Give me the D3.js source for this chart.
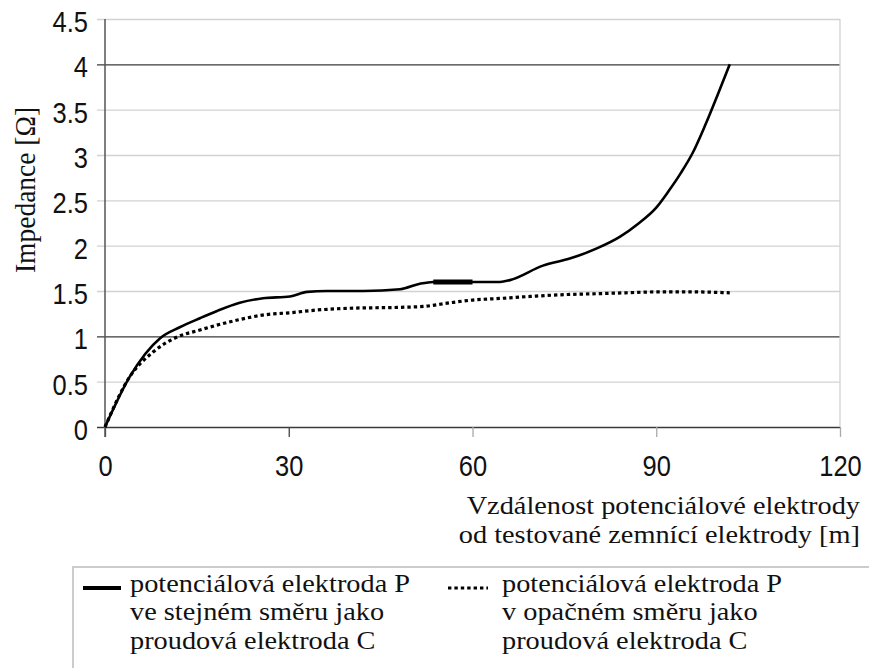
<!DOCTYPE html>
<html>
<head>
<meta charset="utf-8">
<script src="https://cdn.jsdelivr.net/npm/d3@7/dist/d3.min.js"></script>
<style>
body { margin: 0; background: #fff; }
</style>
</head>
<body>
<svg width="869" height="668"></svg>
<script>
// distance of potential electrode [m] and measured impedance [ohm]
var distSame = [0, 4, 9, 12.2, 15.5, 18.3, 22, 25.8, 30.2, 33, 36.2, 42.2, 48.2, 51.4, 53.6, 57, 60, 64.5, 66.1, 71.5, 76, 80.3, 84.1, 87, 90, 92, 94, 96, 98, 100, 102];
var impSame  = [0, 0.55, 0.98, 1.10, 1.20, 1.28, 1.37, 1.42, 1.44, 1.49, 1.50, 1.50, 1.52, 1.58, 1.60, 1.60, 1.60, 1.60, 1.62, 1.78, 1.86, 1.97, 2.10, 2.24, 2.42, 2.60, 2.80, 3.03, 3.33, 3.66, 4.0];

var distOpp = [0, 4, 7.9, 11.7, 15.5, 21, 26.4, 30.2, 34.6, 40, 48.2, 52, 56.3, 60, 65, 69.4, 75, 80.3, 85, 90, 96, 102];
var impOpp  = [0, 0.55, 0.83, 0.99, 1.07, 1.17, 1.24, 1.26, 1.29, 1.31, 1.32, 1.33, 1.37, 1.40, 1.42, 1.44, 1.46, 1.47, 1.48, 1.49, 1.49, 1.48];

var xTicks = [0, 30, 60, 90, 120];
var yTicks = [0, 0.5, 1, 1.5, 2, 2.5, 3, 3.5, 4, 4.5];
var darkGrid = [0, 1, 4];

var yTitle = "Impedance [Ω]";
var xTitle = ["Vzdálenost potenciálové elektrody", "od testované zemnící elektrody [m]"];
var legendSame = ["potenciálová elektroda P", "ve stejném směru jako", "proudová elektroda C"];
var legendOpp = ["potenciálová elektroda P", "v opačném směru jako", "proudová elektroda C"];

var svg = d3.select("svg");
var sans = "'Liberation Sans', Arial, sans-serif",
    serif = "'Liberation Serif', 'Times New Roman', serif";

var x = d3.scaleLinear().domain([0, 120]).range([105, 840]);
var y = d3.scaleLinear().domain([0, 4.5]).range([427, 19]);

// gridlines + y labels
var gy = svg.append("g")
  .attr("transform", "translate(105,0)")
  .call(d3.axisLeft(y)
    .tickValues(yTicks)
    .tickSize(-(x.range()[1] - x.range()[0]))
    .tickPadding(17)
    .tickFormat(function(d) { return String(d); }));
gy.select(".domain").remove();
gy.selectAll(".tick line")
  .attr("x1", -8)
  .attr("stroke", function(d) { return darkGrid.indexOf(d) >= 0 ? "#3a3a3a" : "#d2d2d2"; })
  .attr("stroke-width", function(d) { return darkGrid.indexOf(d) >= 0 ? 1.4 : 1.3; });
gy.selectAll(".tick text")
  .attr("font-family", sans)
  .attr("font-size", 25.5)
  .attr("fill", "#111")
  .attr("dy", null)
  .attr("y", 10.5)
  .attr("transform", "scale(1,1.18)");

// right border
svg.append("line")
  .attr("x1", x(120)).attr("x2", x(120))
  .attr("y1", y(4.5)).attr("y2", y(0))
  .attr("stroke", "#d2d2d2").attr("stroke-width", 1.3);

// x axis ticks + labels
var gx = svg.append("g")
  .attr("transform", "translate(0," + y(0) + ")")
  .call(d3.axisBottom(x).tickValues(xTicks).tickSize(10).tickSizeOuter(0));
gx.select(".domain").remove();
gx.selectAll(".tick line")
  .attr("stroke", function(d) { return d <= 30 ? "#444" : "#aaa"; })
  .attr("stroke-width", 1.3);
gx.selectAll(".tick text")
  .attr("font-family", sans)
  .attr("font-size", 25.5)
  .attr("fill", "#111")
  .attr("dy", null)
  .attr("y", 41.5)
  .attr("transform", "scale(1,1.18)");

// y axis line
svg.append("line")
  .attr("x1", x(0)).attr("x2", x(0))
  .attr("y1", y(4.5)).attr("y2", y(0) + 10)
  .attr("stroke", "#555").attr("stroke-width", 1.5);

// series
var line = d3.line()
  .x(function(d) { return x(d[0]); })
  .y(function(d) { return y(d[1]); })
  .curve(d3.curveMonotoneX);

var same = d3.zip(distSame, impSame),
    opp = d3.zip(distOpp, impOpp);

svg.append("path")
  .datum(opp)
  .attr("d", line)
  .attr("fill", "none")
  .attr("stroke", "#000")
  .attr("stroke-width", 3.2)
  .attr("stroke-dasharray", "3.4,3");

svg.append("path")
  .datum(same)
  .attr("d", line)
  .attr("fill", "none")
  .attr("stroke", "#000")
  .attr("stroke-width", 2.6);

// thicker piece on the plateau
svg.append("path")
  .datum(same.filter(function(d) { return d[0] >= 53.6 && d[0] <= 60; }))
  .attr("d", line)
  .attr("fill", "none")
  .attr("stroke", "#000")
  .attr("stroke-width", 5);

// y title
svg.append("text")
  .attr("transform", "translate(35,190) rotate(-90) scale(1,1.1)")
  .attr("text-anchor", "middle")
  .attr("font-family", serif)
  .attr("font-size", 27.5)
  .attr("fill", "#111")
  .text(yTitle);

// multi-line text block, lines kept tight like the original
function block(lines, tx, ty, anchor, gap) {
  var t = svg.append("text")
    .attr("transform", "translate(" + tx + "," + ty + ") scale(1.09,1)")
    .attr("text-anchor", anchor)
    .attr("font-family", serif)
    .attr("font-size", 26)
    .attr("fill", "#111");
  t.selectAll("tspan")
    .data(lines)
    .enter().append("tspan")
    .attr("x", 0)
    .attr("y", function(d, i) { return i * gap; })
    .text(function(d) { return d; });
  return t;
}

// x title
block(xTitle, 860, 514, "end", 29);

// legend
svg.append("rect")
  .attr("x", 73).attr("y", 567)
  .attr("width", 830).attr("height", 200)
  .attr("fill", "none")
  .attr("stroke", "#cccccc").attr("stroke-width", 2);

svg.append("line")
  .attr("x1", 83).attr("x2", 121).attr("y1", 588).attr("y2", 588)
  .attr("stroke", "#000").attr("stroke-width", 4);
svg.append("line")
  .attr("x1", 448).attr("x2", 488).attr("y1", 588).attr("y2", 588)
  .attr("stroke", "#000").attr("stroke-width", 3.2)
  .attr("stroke-dasharray", "3.4,3");

block(legendSame, 130, 592, "start", 28.5);
block(legendOpp, 502, 592, "start", 28.5);
</script>
</body>
</html>
